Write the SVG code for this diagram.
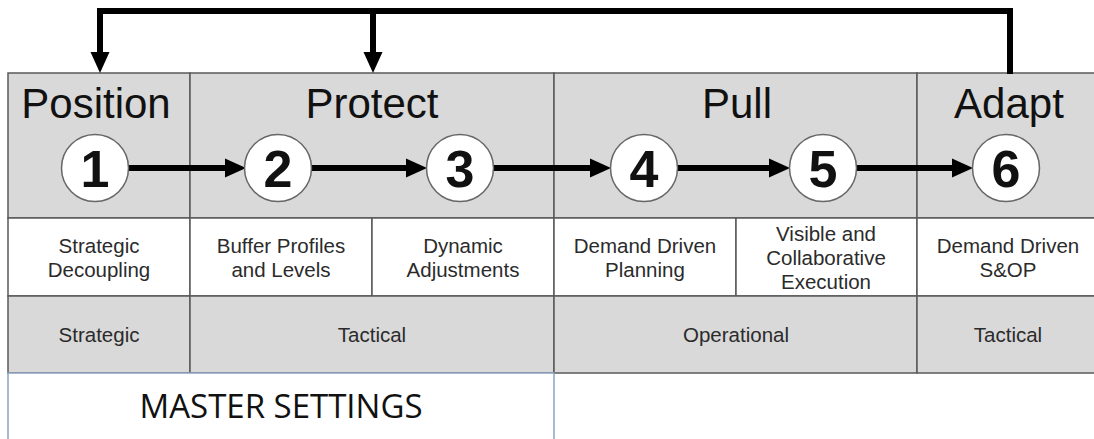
<svg xmlns="http://www.w3.org/2000/svg" width="1094" height="439" viewBox="0 0 1094 439">
<style>
.hdr{fill:#d9d9d9;stroke:#5a5a5a;stroke-width:1.5}
.cell{fill:#ffffff;stroke:#5a5a5a;stroke-width:1.5}
.band{fill:#d9d9d9;stroke:#5a5a5a;stroke-width:1.5}
.title{font-family:"Liberation Sans",Arial,sans-serif;font-size:42px;fill:#111;text-anchor:middle}
.num{font-family:"Liberation Sans",Arial,sans-serif;font-size:52px;font-weight:bold;fill:#111;text-anchor:middle}
.lbl{font-family:"Liberation Sans",Arial,sans-serif;font-size:20.5px;fill:#2b2b2b;text-anchor:middle}
.circ{fill:#ffffff;stroke:#666;stroke-width:1.5}
.conn{fill:none;stroke:#000;stroke-width:6}
.master{font-family:"Open Sans","Liberation Sans",sans-serif;font-size:33px;fill:#111;text-anchor:middle}
</style>
<defs>
<marker id="ah" markerUnits="userSpaceOnUse" markerWidth="22" markerHeight="20" refX="10" refY="9.5" orient="auto" overflow="visible">
<path d="M0,0 L21,9.5 L0,19 Z" fill="#000"/>
</marker>
</defs>
<rect width="1094" height="439" fill="#ffffff"/>

<g id="headers">
<g id="hdr-position"><rect class="hdr" x="8" y="73" width="182" height="145"/><text class="title" x="96" y="118">Position</text></g>
<g id="hdr-protect"><rect class="hdr" x="190" y="73" width="364" height="145"/><text class="title" x="372" y="118">Protect</text></g>
<g id="hdr-pull"><rect class="hdr" x="554" y="73" width="363" height="145"/><text class="title" x="737" y="118">Pull</text></g>
<g id="hdr-adapt"><rect class="hdr" x="917" y="73" width="190" height="145"/><text class="title" x="1009" y="118">Adapt</text></g>
</g>

<g id="cells">
<g id="cell-1"><rect class="cell" x="8" y="218" width="182" height="78"/><text class="lbl" x="99" y="253">Strategic</text><text class="lbl" x="99" y="277">Decoupling</text></g>
<g id="cell-2"><rect class="cell" x="190" y="218" width="182" height="78"/><text class="lbl" x="281" y="253">Buffer Profiles</text><text class="lbl" x="281" y="277">and Levels</text></g>
<g id="cell-3"><rect class="cell" x="372" y="218" width="182" height="78"/><text class="lbl" x="463" y="253">Dynamic</text><text class="lbl" x="463" y="277">Adjustments</text></g>
<g id="cell-4"><rect class="cell" x="554" y="218" width="182" height="78"/><text class="lbl" x="645" y="253">Demand Driven</text><text class="lbl" x="645" y="277">Planning</text></g>
<g id="cell-5"><rect class="cell" x="736" y="218" width="181" height="78"/><text class="lbl" x="826" y="241">Visible and</text><text class="lbl" x="826" y="265">Collaborative</text><text class="lbl" x="826" y="289">Execution</text></g>
<g id="cell-6"><rect class="cell" x="917" y="218" width="190" height="78"/><text class="lbl" x="1008" y="253">Demand Driven</text><text class="lbl" x="1008" y="277">S&amp;OP</text></g>
</g>

<g id="bands">
<g id="band-strategic"><rect class="band" x="8" y="296" width="182" height="77"/><text class="lbl" x="99" y="342">Strategic</text></g>
<g id="band-tactical-1"><rect class="band" x="190" y="296" width="364" height="77"/><text class="lbl" x="372" y="342">Tactical</text></g>
<g id="band-operational"><rect class="band" x="554" y="296" width="363" height="77"/><text class="lbl" x="736" y="342">Operational</text></g>
<g id="band-tactical-2"><rect class="band" x="917" y="296" width="190" height="77"/><text class="lbl" x="1008" y="342">Tactical</text></g>
</g>

<g id="master-settings">
<rect x="8" y="373" width="546" height="80" fill="#ffffff" stroke="#8fa3c4" stroke-width="1.5"/>
<text class="master" x="281" y="418">MASTER SETTINGS</text>
</g>

<g id="connectors">
<path class="conn" d="M1010,74 V11 H100 V62" marker-end="url(#ah)"/>
<path class="conn" d="M373,11 V62" marker-end="url(#ah)"/>
<path class="conn" d="M128,168 H235" marker-end="url(#ah)"/>
<path class="conn" d="M311,168 H416" marker-end="url(#ah)"/>
<path class="conn" d="M494,168 H600" marker-end="url(#ah)"/>
<path class="conn" d="M678,168 H779" marker-end="url(#ah)"/>
<path class="conn" d="M857,168 H962" marker-end="url(#ah)"/>
</g>

<g id="step-1"><circle class="circ" cx="95" cy="168" r="33.5"/><text class="num" x="95" y="187">1</text></g>
<g id="step-2"><circle class="circ" cx="278" cy="168" r="33.5"/><text class="num" x="278" y="187">2</text></g>
<g id="step-3"><circle class="circ" cx="460" cy="168" r="33.5"/><text class="num" x="460" y="187">3</text></g>
<g id="step-4"><circle class="circ" cx="644" cy="168" r="33.5"/><text class="num" x="644" y="187">4</text></g>
<g id="step-5"><circle class="circ" cx="823" cy="168" r="33.5"/><text class="num" x="823" y="187">5</text></g>
<g id="step-6"><circle class="circ" cx="1006" cy="168" r="33.5"/><text class="num" x="1006" y="187">6</text></g>
</svg>
